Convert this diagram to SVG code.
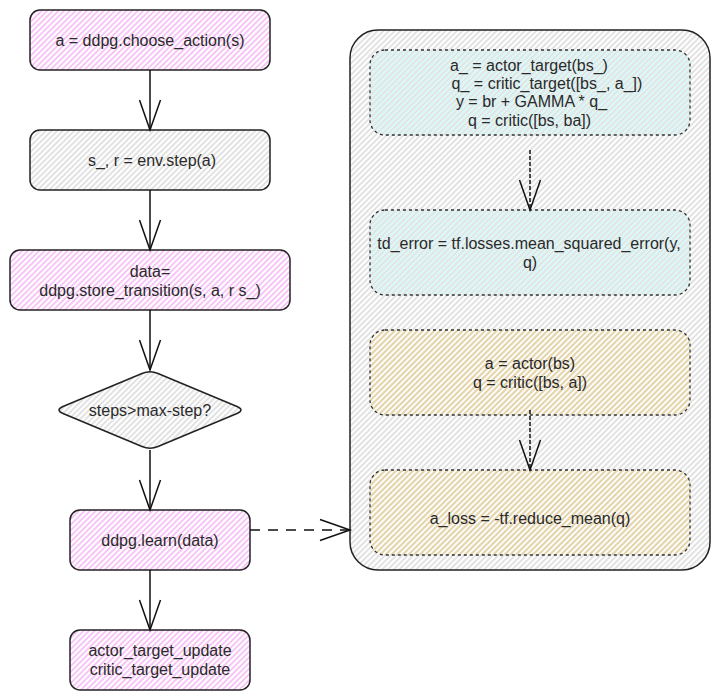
<svg xmlns="http://www.w3.org/2000/svg" width="720" height="700" viewBox="0 0 720 700">
  <defs>
    <pattern id="hPink" patternUnits="userSpaceOnUse" width="4" height="4" patternTransform="rotate(45)">
      <rect width="4" height="4" fill="#ffffff"/>
      <line x1="1" y1="0" x2="1" y2="4" stroke="#f5b8f5" stroke-width="1.6"/>
    </pattern>
    <pattern id="hGray" patternUnits="userSpaceOnUse" width="4" height="4" patternTransform="rotate(45)">
      <rect width="4" height="4" fill="#ffffff"/>
      <line x1="1" y1="0" x2="1" y2="4" stroke="#d9d9d9" stroke-width="1.5"/>
    </pattern>
    <pattern id="hCyan" patternUnits="userSpaceOnUse" width="4" height="4" patternTransform="rotate(45)">
      <line x1="3" y1="0" x2="3" y2="4" stroke="#d4f7f7" stroke-width="1.8"/>
    </pattern>
    <pattern id="hTan" patternUnits="userSpaceOnUse" width="4" height="4" patternTransform="rotate(45)">
      <line x1="1" y1="0" x2="1" y2="4" stroke="#e8d5a8" stroke-width="1.9"/>
    </pattern>
    <marker id="open" markerUnits="userSpaceOnUse" viewBox="0 0 32 22" refX="30" refY="11" markerWidth="32" markerHeight="22" orient="auto" overflow="visible">
      <path d="M0,0.5 L30,11 L0,21.5" fill="none" stroke="#111" stroke-width="1.5"/>
    </marker>
  </defs>
  <style>
    text { font-family: "Liberation Sans", Arial, sans-serif; font-size: 16px; fill: #2a2a2a; text-anchor: middle; }
    .main { stroke: #222; stroke-width: 1.5; }
    .inner { stroke: #333; stroke-width: 1.3; stroke-dasharray: 3 3; }
    .conn { fill: none; stroke: #111; stroke-width: 1.5; }
  </style>

  <g id="container">
    <rect x="350" y="30" width="360" height="540" rx="28" ry="28" fill="url(#hGray)" class="main"/>
  </g>

  <g id="n1">
    <rect x="30" y="10" width="240" height="60" rx="10" ry="10" fill="url(#hPink)" class="main"/>
    <text x="150" y="45.5">a = ddpg.choose_action(s)</text>
  </g>
  <g id="n2">
    <rect x="30" y="130" width="240" height="60" rx="10" ry="10" fill="url(#hGray)" class="main"/>
    <text x="152" y="165.5">s_, r = env.step(a)</text>
  </g>
  <g id="n3">
    <rect x="10" y="250" width="280" height="60" rx="10" ry="10" fill="url(#hPink)" class="main"/>
    <text x="150" y="277">data=</text>
    <text x="150" y="295.5">ddpg.store_transition(s, a, r s_)</text>
  </g>
  <g id="n4">
    <path d="M142,373.5 Q150,370 158,373.5 L237,406.5 Q245,410 237,413.5 L158,446.5 Q150,450 142,446.5 L63,413.5 Q55,410 63,406.5 Z" fill="url(#hGray)" class="main"/>
    <text x="150" y="416">steps&gt;max-step?</text>
  </g>
  <g id="n5">
    <rect x="70" y="510" width="180" height="60" rx="10" ry="10" fill="url(#hPink)" class="main"/>
    <text x="160" y="545.5">ddpg.learn(data)</text>
  </g>
  <g id="n6">
    <rect x="70" y="630" width="180" height="60" rx="10" ry="10" fill="url(#hPink)" class="main"/>
    <text x="160" y="656">actor_target_update</text>
    <text x="160" y="674.5">critic_target_update</text>
  </g>

  <g id="i1">
    <rect x="370" y="50" width="320" height="85" rx="15" ry="15" fill="url(#hCyan)" class="inner"/>
    <text x="529" y="70.5">a_ = actor_target(bs_)</text>
    <text x="547" y="89">q_ = critic_target([bs_, a_])</text>
    <text x="531.5" y="107">y = br + GAMMA * q_</text>
    <text x="529.5" y="125.5">q = critic([bs, ba])</text>
  </g>
  <g id="i2">
    <rect x="370" y="210" width="320" height="85" rx="15" ry="15" fill="url(#hCyan)" class="inner"/>
    <text x="529" y="249">td_error = tf.losses.mean_squared_error(y,</text>
    <text x="530" y="268">q)</text>
  </g>
  <g id="i3">
    <rect x="370" y="330" width="320" height="85" rx="15" ry="15" fill="url(#hTan)" class="inner"/>
    <text x="530" y="369">a = actor(bs)</text>
    <text x="530" y="388">q = critic([bs, a])</text>
  </g>
  <g id="i4">
    <rect x="370" y="470" width="320" height="85" rx="15" ry="15" fill="url(#hTan)" class="inner"/>
    <text x="530" y="524">a_loss = -tf.reduce_mean(q)</text>
  </g>

  <g id="connectors">
    <line x1="150" y1="70" x2="150" y2="130" class="conn" marker-end="url(#open)"/>
    <line x1="150" y1="190" x2="150" y2="250" class="conn" marker-end="url(#open)"/>
    <line x1="150" y1="310" x2="150" y2="370" class="conn" marker-end="url(#open)"/>
    <line x1="150" y1="450" x2="150" y2="510" class="conn" marker-end="url(#open)"/>
    <line x1="150" y1="570" x2="150" y2="630" class="conn" marker-end="url(#open)"/>
    <line x1="250" y1="530" x2="350" y2="530" class="conn" stroke-dasharray="10 8" marker-end="url(#open)"/>
    <line x1="530" y1="150" x2="530" y2="210" class="conn" stroke-dasharray="4 2" marker-end="url(#open)"/>
    <line x1="530" y1="410" x2="530" y2="470" class="conn" stroke-dasharray="4 2" marker-end="url(#open)"/>
  </g>
</svg>
